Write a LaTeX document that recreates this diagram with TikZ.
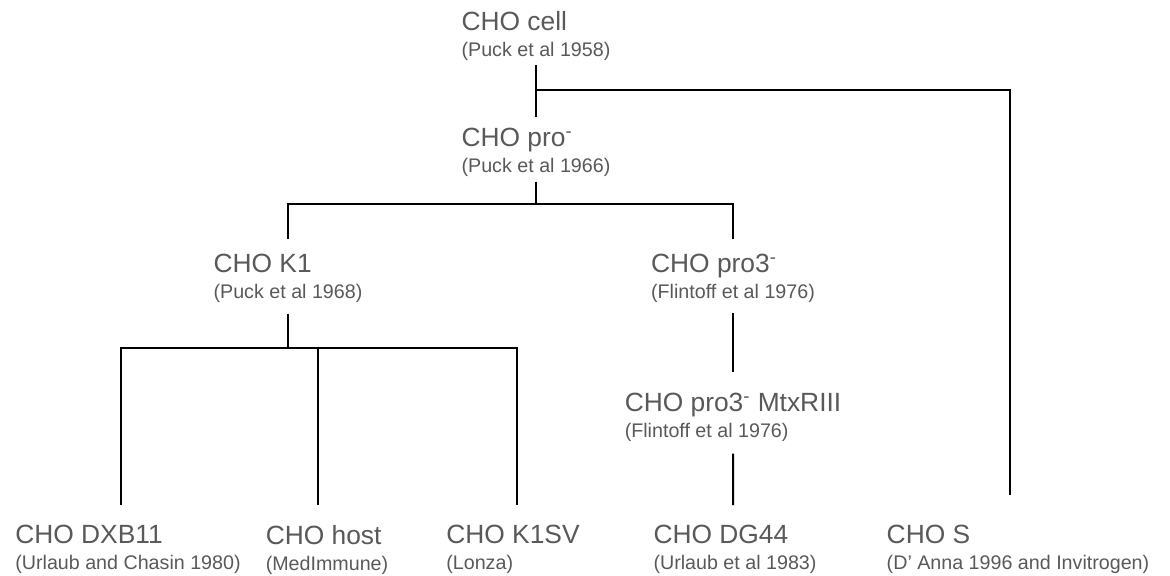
\documentclass[tikz,border=0pt]{standalone}
\usepackage{fontspec}
\setmainfont{Liberation Sans}
\usepackage{tikz}
\usetikzlibrary{calc}
\definecolor{chogray}{RGB}{89,89,89}
\newcommand{\srcfont}{\fontsize{11.2}{14.7}\selectfont}

\begin{document}
\begin{tikzpicture}[x=0.02cm, y=-0.02cm,
    strain/.style={anchor=north, align=left, inner sep=0pt, text=chogray, font=\fontsize{15}{14.7}\selectfont,
        execute at begin node={\rule{0pt}{11pt}}},
    link/.style={line width=0.04cm, black}]
    \useasboundingbox (0,0) rectangle (1170,575);

    % Parent lines
    \node[strain] (cell) at (536,11.5) {CHO cell\\{\srcfont (Puck et al 1958)}};
    \node[strain] (pro) at (536,127.5) {CHO pro\textsuperscript{-}\\{\srcfont (Puck et al 1966)}};

    % Second generation
    \node[strain] (k1) at (288,253.5) {CHO K1\\{\srcfont (Puck et al 1968)}};
    \node[strain] (pro3) at (733,253.5) {CHO pro3\textsuperscript{-}\\{\srcfont (Flintoff et al 1976)}};
    \node[strain] (mtx) at (733,392.5) {CHO pro3\textsuperscript{-} MtxRIII\\{\srcfont (Flintoff et al 1976)}};

    % Bottom row: today's host lines
    \node[strain] (dxb11) at (128,525) {CHO DXB11\\{\srcfont (Urlaub and Chasin 1980)}};
    \node[strain] (host) at (327,525) {CHO host\\{\srcfont (MedImmune)}};
    \node[strain] (k1sv) at (513,525) {CHO K1SV\\{\srcfont (Lonza)}};
    \node[strain] (dg44) at (735,525) {CHO DG44\\{\srcfont (Urlaub et al 1983)}};
    \node[strain] (chos) at (1018,525) {CHO S\\{\srcfont (D’ Anna 1996 and Invitrogen)}};

    % Branch points
    \coordinate (barcell) at (536,90);
    \coordinate (barpro) at (536,204);
    \coordinate (bark1) at (288,348);

    % Tree lines
    \draw[link, shorten <=0.08cm, shorten >=0.21cm] (cell.south) -- (pro.north);
    \draw[link, shorten >=0.6cm] (barcell) -| ([xshift=-0.16cm]chos.north);
    \draw[link, shorten <=0.1cm] (pro.south) -- (barpro);
    \draw[link, shorten <=0.3cm, shorten >=0.3cm] (k1.north) -- (k1.north |- barpro) -- (pro3.north |- barpro) -- (pro3.north);
    \draw[link, shorten <=0.22cm] (k1.south) -- (bark1);
    \draw[link, shorten <=0.4cm, shorten >=0.4cm] ([xshift=-0.14cm]dxb11.north) -- ([xshift=-0.14cm]dxb11.north |- bark1)
        -- ([xshift=0.08cm]k1sv.north |- bark1) -- ([xshift=0.08cm]k1sv.north);
    \draw[link, shorten >=0.4cm] ([xshift=-0.18cm]host.north |- bark1) -- ([xshift=-0.18cm]host.north);
    \draw[link, shorten <=0.2cm, shorten >=0.41cm] (pro3.south) -- (mtx.north);
    \draw[link, shorten <=0.24cm, shorten >=0.4cm] (mtx.south) -- ([xshift=-0.04cm]dg44.north);
\end{tikzpicture}
\end{document}
